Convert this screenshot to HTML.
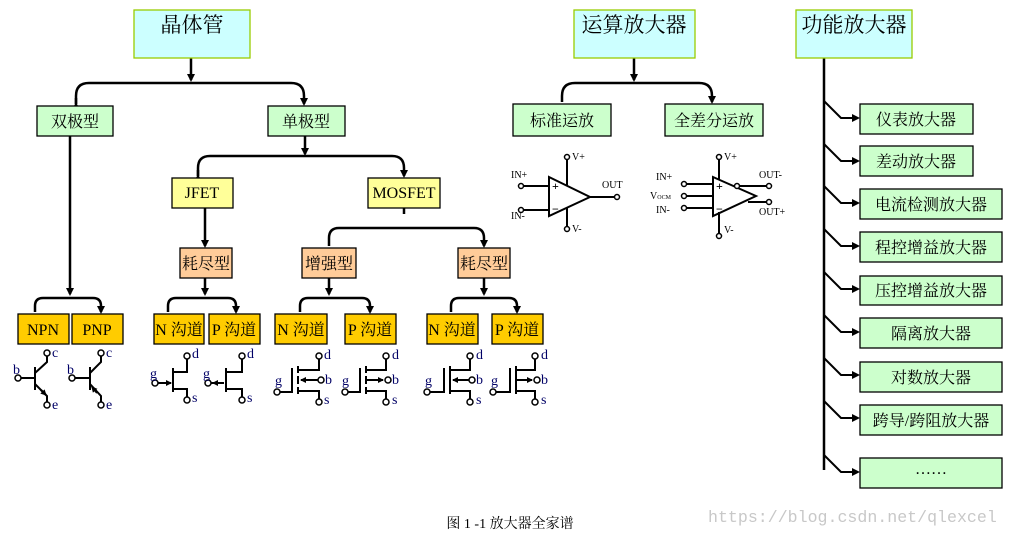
<!DOCTYPE html>
<html><head><meta charset="utf-8"><style>
html,body{margin:0;padding:0;background:#fff;}
svg{display:block;}
text{font-family:"Liberation Serif","Noto Serif CJK SC","Noto Sans CJK SC",serif;}
.c{font-family:"Liberation Serif","Noto Sans CJK SC",sans-serif;}
</style></head><body>
<svg width="1010" height="535" viewBox="0 0 1010 535" xmlns="http://www.w3.org/2000/svg">
<defs>
<marker id="a" markerWidth="8" markerHeight="8" refX="6" refY="4" orient="auto" markerUnits="userSpaceOnUse"><path d="M0,0 L8,4 L0,8 z" fill="#000"/></marker>
<marker id="s" markerWidth="6" markerHeight="6" refX="5" refY="3" orient="auto" markerUnits="userSpaceOnUse"><path d="M0,0 L6,3 L0,6 z" fill="#000"/></marker>
</defs>
<g stroke="#000" stroke-width="2.5" fill="none">
<path d="M191,58 V80" marker-end="url(#a)"/>
<path d="M76,104 V96 Q76,83 89,83 H291 Q304,83 304,96 V104" marker-end="url(#a)"/>
<path d="M76,104 V98" marker-start="url(#a)"/>
<path d="M305,136 V154" marker-end="url(#a)"/>
<path d="M198,176 V168 Q198,156 210,156 H392 Q404,156 404,168 V176" marker-end="url(#a)"/>
<path d="M198,176 V170" marker-start="url(#a)"/>
<path d="M70,136 V294" marker-end="url(#a)"/>
<path d="M35,312 V306 Q35,298 43,298 H93 Q101,298 101,306 V312" marker-end="url(#a)"/>
<path d="M205,208 V246" marker-end="url(#a)"/>
<path d="M404,208 V214"/>
<path d="M329,246 V238 Q329,228 339,228 H474 Q484,228 484,238 V246" marker-end="url(#a)"/>
<path d="M205,278 V294" marker-end="url(#a)"/>
<path d="M168,312 V306 Q168,298 176,298 H228 Q236,298 236,306 V312" marker-end="url(#a)"/>
<path d="M329,278 V294" marker-end="url(#a)"/>
<path d="M300,312 V306 Q300,298 308,298 H362 Q370,298 370,306 V312" marker-end="url(#a)"/>
<path d="M484,278 V294" marker-end="url(#a)"/>
<path d="M451,312 V306 Q451,298 459,298 H509 Q517,298 517,306 V312" marker-end="url(#a)"/>
<path d="M634,58 V80" marker-end="url(#a)"/>
<path d="M562,102 V96 Q562,83 575,83 H699 Q712,83 712,96 V102" marker-end="url(#a)"/>
<path d="M824,58 V470"/>
</g>
<g stroke="#000" stroke-width="2" fill="none">
<path d="M824,101 L841,118 H858" marker-end="url(#a)"/>
<path d="M824,144 L841,161 H858" marker-end="url(#a)"/>
<path d="M824,186 L841,203 H858" marker-end="url(#a)"/>
<path d="M824,229 L841,246 H858" marker-end="url(#a)"/>
<path d="M824,272 L841,289 H858" marker-end="url(#a)"/>
<path d="M824,315 L841,332 H858" marker-end="url(#a)"/>
<path d="M824,358 L841,375 H858" marker-end="url(#a)"/>
<path d="M824,401 L841,418 H858" marker-end="url(#a)"/>
<path d="M824,455 L841,472 H858" marker-end="url(#a)"/>
</g>
<g stroke-width="1.3">
<rect x="134" y="10" width="116" height="48" fill="#ccffff" stroke="#99cc00"/>
<rect x="574" y="10" width="121" height="48" fill="#ccffff" stroke="#99cc00"/>
<rect x="796" y="10" width="116" height="48" fill="#ccffff" stroke="#99cc00"/>
<g fill="#ccffcc" stroke="#000">
<rect x="37" y="106" width="76" height="30"/><rect x="268" y="106" width="77" height="30"/>
<rect x="513" y="104" width="98" height="32"/><rect x="665" y="104" width="98" height="32"/>
<rect x="860" y="104" width="113" height="30"/><rect x="860" y="146" width="113" height="30"/>
<rect x="860" y="189" width="142" height="30"/><rect x="860" y="232" width="142" height="30"/>
<rect x="860" y="276" width="142" height="29"/><rect x="860" y="318" width="142" height="30"/>
<rect x="860" y="362" width="142" height="30"/><rect x="860" y="405" width="142" height="30"/>
<rect x="860" y="458" width="142" height="30"/>
</g>
<g fill="#ffff99" stroke="#000"><rect x="172" y="178" width="61" height="30"/><rect x="368" y="178" width="72" height="30"/></g>
<g fill="#ffcc99" stroke="#000"><rect x="180" y="248" width="52" height="30"/><rect x="302" y="248" width="54" height="30"/><rect x="458" y="248" width="52" height="30"/></g>
<g fill="#ffcc00" stroke="#000">
<rect x="18" y="314" width="51" height="30"/><rect x="72" y="314" width="51" height="30"/>
<rect x="154" y="314" width="50" height="30"/><rect x="209" y="314" width="51" height="30"/>
<rect x="275" y="314" width="52" height="30"/><rect x="345" y="314" width="51" height="30"/>
<rect x="427" y="314" width="51" height="30"/><rect x="492" y="314" width="51" height="30"/>
</g>
</g>
<g class="c" text-anchor="middle" fill="#000">
<text x="192" y="32" font-size="21">晶体管</text>
<text x="634" y="32" font-size="21">运算放大器</text>
<text x="854" y="32" font-size="21">功能放大器</text>
<g font-size="16">
<text x="75" y="127">双极型</text><text x="306" y="127">单极型</text>
<text x="562" y="126">标准运放</text><text x="714" y="126">全差分运放</text>
<text x="916" y="125">仪表放大器</text><text x="916" y="167">差动放大器</text>
<text x="931" y="210">电流检测放大器</text><text x="931" y="253">程控增益放大器</text>
<text x="931" y="296">压控增益放大器</text><text x="931" y="339">隔离放大器</text>
<text x="931" y="383">对数放大器</text><text x="931" y="426">跨导/跨阻放大器</text>
<text x="931" y="474">……</text>
<text x="202" y="198">JFET</text><text x="404" y="198">MOSFET</text>
<text x="206" y="269">耗尽型</text><text x="329" y="269">增强型</text><text x="484" y="269">耗尽型</text>
<text x="43" y="335">NPN</text><text x="97" y="335">PNP</text>
<text x="179" y="335">N 沟道</text><text x="234" y="335">P 沟道</text>
<text x="301" y="335">N 沟道</text><text x="370" y="335">P 沟道</text>
<text x="452" y="335">N 沟道</text><text x="517" y="335">P 沟道</text>
</g>
<text x="510" y="528" font-size="14">图 1 -1 放大器全家谱</text>
</g>
<text x="708" y="522" font-size="16.6" fill="#c8c8c8" style="font-family:'Liberation Mono',monospace">https://blog.csdn.net/qlexcel</text>
<g stroke="#000" stroke-width="2" fill="none">
<path d="M21,378 H35 M35,367 V390 M35,373 L47,362 V356 M35,384 L47,396 V402"/>
<path d="M41,390 L46,395" marker-end="url(#s)"/>
<path d="M75,378 H90 M90,367 V390 M90,373 L101,362 V356 M90,384 L101,396 V402"/>
<path d="M97,393 L92,387" marker-end="url(#s)"/>
<path d="M158,383 H171" marker-end="url(#s)"/>
<path d="M173,368 V392 M173,372 H187 V359 M173,389 H187 V397"/>
<path d="M224,383 H213" marker-end="url(#s)"/>
<path d="M211,383 H224 M226,368 V392 M226,372 H242 V359 M226,389 H242 V397"/>
<path d="M280,392 H292 V368 M298,366 V373 M298,376 V384 M298,387 V394 M298,370 H319 V359 M298,391 H319 V399 M318,380 H301"/>
<path d="M312,380 H301" marker-end="url(#s)"/>
<path d="M348,392 H360 V368 M366,366 V373 M366,376 V384 M366,387 V394 M366,370 H386 V359 M366,391 H386 V399 M366,380 H382"/>
<path d="M372,380 H383" marker-end="url(#s)"/>
<path d="M430,392 H444 V368 M450,366 V394 M450,370 H470 V359 M450,391 H470 V399 M470,380 H453"/>
<path d="M462,380 H453" marker-end="url(#s)"/>
<path d="M496,392 H510 V368 M516,366 V394 M516,370 H535 V359 M516,391 H535 V399 M516,380 H532"/>
<path d="M522,380 H532" marker-end="url(#s)"/>
<path d="M549,177 L590,197 L549,216 Z M524,186 H549 M524,210 H549 M567,160 V185 M567,207 V227 M590,197 H614"/>
<path d="M713,177 L756,196 L713,216 Z M687,184 H713 M687,196 H713 M687,208 H713 M719,160 V180 M719,212 V233 M737,186 H766 M748,202 H766"/>
</g>
<g stroke="#000" stroke-width="1.5" fill="#fff">
<circle cx="18" cy="378" r="3"/><circle cx="47" cy="353" r="3"/><circle cx="47" cy="405" r="3"/>
<circle cx="72" cy="378" r="3"/><circle cx="101" cy="353" r="3"/><circle cx="101" cy="405" r="3"/>
<circle cx="155" cy="383" r="3"/><circle cx="187" cy="356" r="3"/><circle cx="187" cy="400" r="3"/>
<circle cx="208" cy="383" r="3"/><circle cx="242" cy="356" r="3"/><circle cx="242" cy="400" r="3"/>
<circle cx="277" cy="392" r="3"/><circle cx="319" cy="356" r="3"/><circle cx="319" cy="402" r="3"/><circle cx="321" cy="380" r="3"/>
<circle cx="345" cy="392" r="3"/><circle cx="386" cy="356" r="3"/><circle cx="386" cy="402" r="3"/><circle cx="388" cy="380" r="3"/>
<circle cx="427" cy="392" r="3"/><circle cx="470" cy="356" r="3"/><circle cx="470" cy="402" r="3"/><circle cx="472" cy="380" r="3"/>
<circle cx="493" cy="392" r="3"/><circle cx="535" cy="356" r="3"/><circle cx="535" cy="402" r="3"/><circle cx="537" cy="380" r="3"/>
<circle cx="521" cy="186" r="2.5"/><circle cx="521" cy="210" r="2.5"/><circle cx="567" cy="157" r="2.5"/><circle cx="567" cy="229" r="2.5"/><circle cx="617" cy="197" r="2.5"/>
<circle cx="684" cy="184" r="2.5"/><circle cx="684" cy="196" r="2.5"/><circle cx="684" cy="208" r="2.5"/><circle cx="719" cy="157" r="2.5"/><circle cx="719" cy="236" r="2.5"/><circle cx="737" cy="186" r="2.5"/><circle cx="769" cy="186" r="2.5"/><circle cx="769" cy="202" r="2.5"/>
</g>
<g font-size="14" fill="#000066">
<text x="13" y="374">b</text><text x="52" y="357">c</text><text x="52" y="409">e</text>
<text x="67" y="374">b</text><text x="106" y="357">c</text><text x="106" y="409">e</text>
<text x="150" y="378">g</text><text x="192" y="358">d</text><text x="192" y="402">s</text>
<text x="203" y="378">g</text><text x="247" y="358">d</text><text x="247" y="402">s</text>
<text x="275" y="385">g</text><text x="324" y="359">d</text><text x="324" y="404">s</text><text x="325" y="384">b</text>
<text x="342" y="385">g</text><text x="392" y="359">d</text><text x="392" y="404">s</text><text x="392" y="384">b</text>
<text x="425" y="385">g</text><text x="476" y="359">d</text><text x="476" y="404">s</text><text x="476" y="384">b</text>
<text x="491" y="385">g</text><text x="541" y="359">d</text><text x="541" y="404">s</text><text x="541" y="384">b</text>
</g>
<g font-size="10" fill="#000">
<text x="511" y="178">IN+</text><text x="511" y="219">IN-</text><text x="572" y="160">V+</text><text x="572" y="232">V-</text><text x="602" y="188">OUT</text>
<text x="656" y="180">IN+</text><text x="650" y="199">V<tspan font-size="6">OCM</tspan></text><text x="656" y="213">IN-</text><text x="724" y="160">V+</text><text x="724" y="233">V-</text><text x="759" y="178">OUT-</text><text x="759" y="215">OUT+</text>
<text x="552" y="190" font-size="12" font-weight="bold">+</text><text x="552" y="213" font-size="12" font-weight="bold">−</text>
<text x="716" y="190" font-size="12" font-weight="bold">+</text><text x="716" y="213" font-size="12" font-weight="bold">−</text>
</g>
</svg>
</body></html>
